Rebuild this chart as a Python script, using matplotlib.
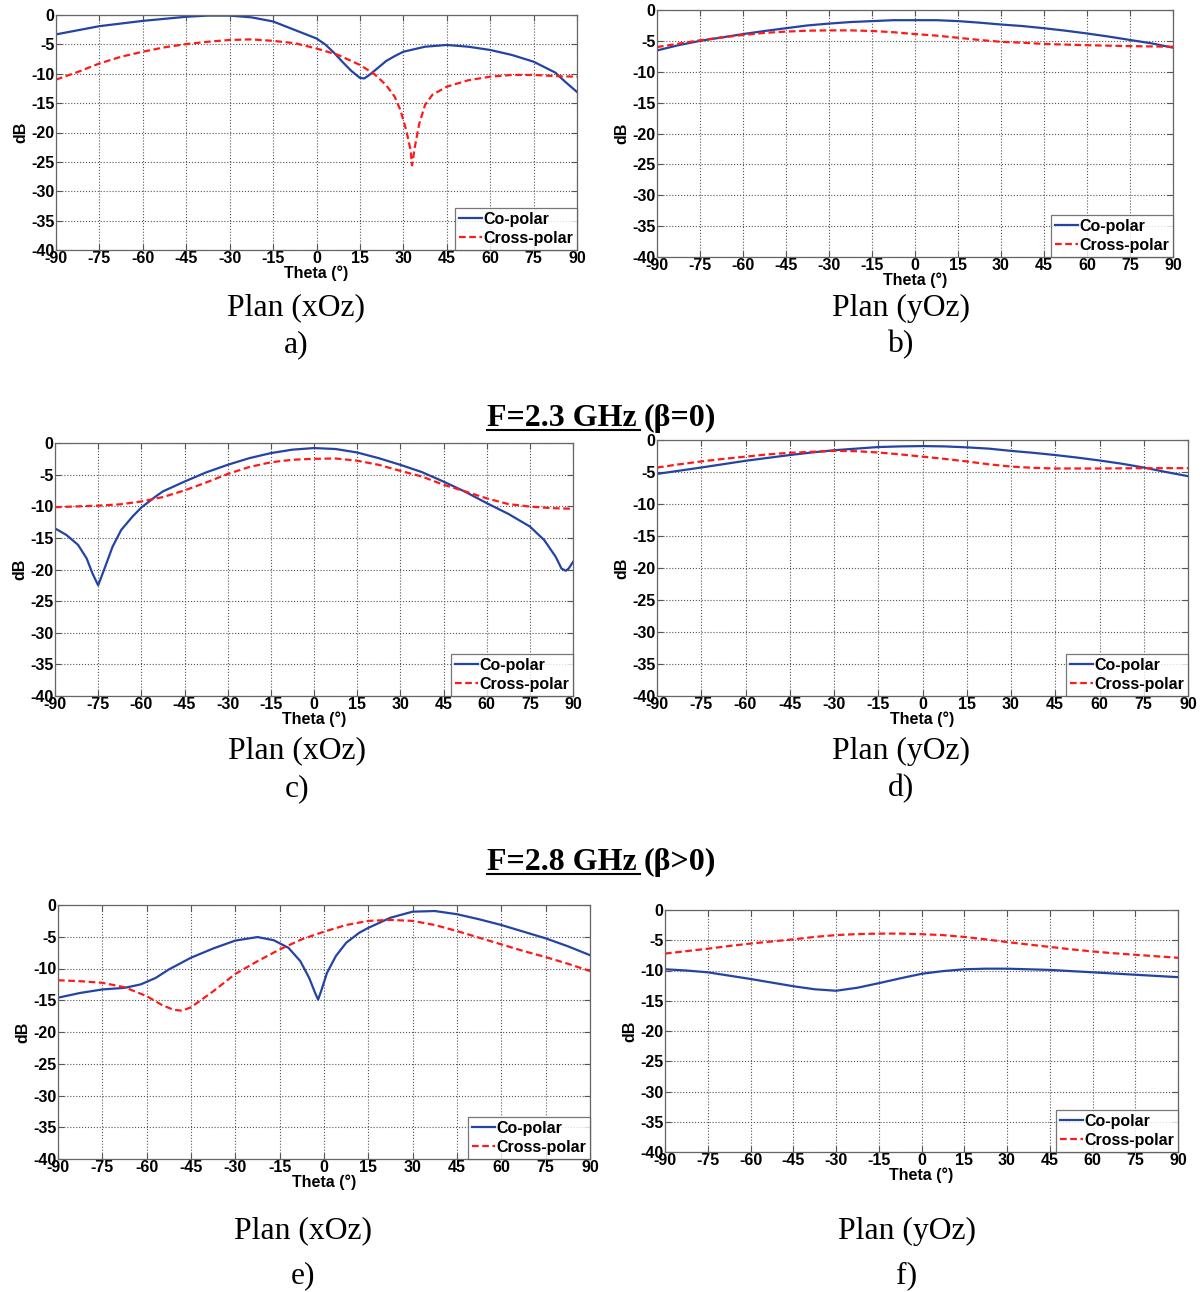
import numpy as np
import matplotlib
matplotlib.use('Agg')
import matplotlib.pyplot as plt
from matplotlib.lines import Line2D

plt.rcParams['axes.unicode_minus'] = False

# ---- data (theta in degrees, gain in dB) ----
# a) plan xOz
a_co_t = [-90, -82.5, -75, -60, -45, -37.5, -30, -22.5, -15, -7.5, 0, 3, 6, 9, 12, 15, 16.5, 18, 21, 24, 27, 30, 37.5, 45, 52.5, 60, 67.5, 75, 82.5, 86, 90]
a_co_v = [-3.3, -2.6, -1.9, -1.0, -0.3, -0.1, -0.1, -0.4, -1.1, -2.55, -4.0, -5.0, -6.4, -8.0, -9.5, -10.7, -10.8, -10.3, -9.1, -7.85, -7.0, -6.25, -5.4, -5.1, -5.4, -5.95, -6.8, -7.95, -9.8, -11.4, -13.1]
a_cr_t = [-90, -82.5, -75, -67.5, -60, -52.5, -45, -37.5, -30, -22.5, -15, -7.5, 0, 7.5, 15, 20, 24, 27, 29, 31, 32.5, 33, 34, 35.5, 37.5, 40, 45, 52.5, 60, 67.5, 75, 82.5, 90]
a_cr_v = [-11.0, -9.7, -8.25, -7.1, -6.25, -5.5, -4.95, -4.55, -4.25, -4.15, -4.4, -4.8, -5.7, -6.8, -8.5, -10.05, -11.9, -13.9, -16.2, -19.6, -23.0, -25.6, -22.4, -18.5, -15.3, -13.6, -12.2, -11.1, -10.5, -10.2, -10.2, -10.4, -10.5]

# b) plan yOz
b_co_t = [-90, -82.5, -75, -67.5, -60, -52.5, -45, -37.5, -30, -22.5, -15, -7.5, 0, 7.5, 15, 22.5, 30, 37.5, 45, 52.5, 60, 67.5, 75, 82.5, 90]
b_co_v = [-6.55, -5.7, -5.0, -4.45, -3.9, -3.4, -2.95, -2.5, -2.2, -1.95, -1.8, -1.65, -1.65, -1.65, -1.8, -2.05, -2.35, -2.6, -2.95, -3.35, -3.8, -4.3, -4.85, -5.4, -6.1]
b_cr_t = [-90, -82.5, -75, -67.5, -60, -52.5, -45, -37.5, -30, -22.5, -15, -7.5, 0, 7.5, 15, 22.5, 30, 37.5, 45, 60, 75, 90]
b_cr_v = [-6.0, -5.45, -4.9, -4.45, -4.05, -3.7, -3.5, -3.35, -3.3, -3.3, -3.4, -3.6, -3.9, -4.15, -4.5, -4.85, -5.15, -5.3, -5.5, -5.7, -5.85, -5.95]

# c) F=2.3 GHz plan xOz
c_co_t = [-90, -86, -82, -79, -77, -75, -73, -70, -67, -63, -60, -55, -52.5, -45, -37.5, -30, -22.5, -15, -7.5, 0, 7.5, 15, 22.5, 30, 37.5, 45, 52.5, 60, 67.5, 75, 80, 84, 86, 87.5, 88.5, 90]
c_co_v = [-13.5, -14.55, -16.1, -18.25, -20.6, -22.5, -20.1, -16.4, -13.75, -11.6, -10.2, -8.45, -7.65, -6.1, -4.65, -3.45, -2.4, -1.6, -1.05, -0.8, -0.95, -1.5, -2.4, -3.45, -4.6, -6.1, -7.7, -9.5, -11.2, -13.2, -15.35, -18.0, -19.85, -20.2, -19.85, -18.8]
c_cr_t = [-90, -75, -67.5, -60, -52.5, -45, -37.5, -30, -22.5, -15, -7.5, 0, 7.5, 15, 22.5, 30, 37.5, 45, 52.5, 60, 67.5, 75, 82.5, 90]
c_cr_v = [-10.15, -9.9, -9.7, -9.25, -8.55, -7.5, -6.25, -4.9, -3.8, -3.05, -2.65, -2.5, -2.45, -2.8, -3.45, -4.4, -5.3, -6.6, -7.65, -8.75, -9.65, -10.05, -10.3, -10.4]

# d) F=2.3 GHz plan yOz
d_co_t = [-90, -75, -60, -45, -37.5, -30, -22.5, -15, -7.5, 0, 7.5, 15, 22.5, 30, 37.5, 45, 52.5, 60, 67.5, 75, 82.5, 90]
d_co_v = [-5.3, -4.3, -3.25, -2.35, -1.95, -1.6, -1.35, -1.1, -1.0, -0.95, -1.0, -1.15, -1.35, -1.7, -2.0, -2.35, -2.75, -3.2, -3.7, -4.3, -5.0, -5.65]
d_cr_t = [-90, -82.5, -75, -67.5, -60, -52.5, -45, -37.5, -30, -22.5, -15, -7.5, 0, 7.5, 15, 22.5, 30, 37.5, 45, 60, 75, 90]
d_cr_v = [-4.3, -3.8, -3.35, -2.95, -2.6, -2.25, -2.0, -1.85, -1.7, -1.75, -1.95, -2.25, -2.6, -2.95, -3.35, -3.8, -4.15, -4.35, -4.45, -4.45, -4.4, -4.4]

# e) F=2.8 GHz plan xOz
e_co_t = [-90, -82.5, -75, -67.5, -62, -57, -52.5, -45, -37.5, -30, -22.5, -17, -12, -8, -5, -3, -2, -1, 1, 4, 7.5, 12, 15, 22.5, 30, 37.5, 45, 52.5, 60, 67.5, 75, 82.5, 90]
e_co_v = [-14.6, -13.85, -13.3, -13.05, -12.5, -11.5, -10.15, -8.3, -6.85, -5.6, -5.05, -5.55, -6.75, -8.85, -11.5, -13.85, -14.9, -13.6, -10.7, -8.05, -5.95, -4.35, -3.6, -2.0, -1.05, -0.95, -1.45, -2.25, -3.15, -4.2, -5.25, -6.5, -7.9]
e_cr_t = [-90, -82.5, -75, -67.5, -60, -55, -51, -48, -45, -37.5, -30, -22.5, -15, -7.5, 0, 7.5, 15, 22.5, 30, 37.5, 45, 52.5, 60, 67.5, 75, 82.5, 90]
e_cr_v = [-11.85, -12.0, -12.25, -12.95, -14.35, -15.7, -16.5, -16.65, -16.1, -13.6, -10.85, -8.85, -7.0, -5.4, -4.2, -3.15, -2.5, -2.35, -2.5, -3.15, -4.1, -5.15, -6.2, -7.25, -8.2, -9.25, -10.4]

# f) F=2.8 GHz plan yOz
f_co_t = [-90, -82.5, -75, -67.5, -60, -52.5, -45, -37.5, -30, -22.5, -15, -7.5, 0, 7.5, 15, 22.5, 30, 37.5, 45, 52.5, 60, 67.5, 75, 82.5, 90]
f_co_v = [-9.8, -10.0, -10.3, -10.85, -11.4, -12.0, -12.6, -13.1, -13.35, -12.85, -12.1, -11.3, -10.55, -10.1, -9.8, -9.7, -9.7, -9.8, -9.9, -10.1, -10.3, -10.5, -10.7, -10.9, -11.1]
f_cr_t = [-90, -82.5, -75, -67.5, -60, -52.5, -45, -37.5, -30, -22.5, -15, -7.5, 0, 7.5, 15, 22.5, 30, 37.5, 45, 52.5, 60, 67.5, 75, 82.5, 90]
f_cr_v = [-7.2, -6.8, -6.4, -5.95, -5.55, -5.2, -4.85, -4.45, -4.15, -3.98, -3.9, -3.9, -4.0, -4.15, -4.45, -4.85, -5.3, -5.7, -6.1, -6.5, -6.85, -7.15, -7.4, -7.65, -7.9]

x_ticks = list(range(-90, 91, 15))
y_ticks = list(range(-40, 1, 5))
legend_labels = ['Co-polar', 'Cross-polar']

W, H = 1203, 1292
fig = plt.figure(figsize=(W / 100, H / 100), dpi=100)

BLUE = '#2444a4'
RED = '#ff1a1a'
SANS = 'Liberation Sans'
SERIF = 'Liberation Serif'
FS = 11.5


def ax_at(l, t, r, b):
    return fig.add_axes([l / W, 1 - b / H, (r - l) / W, (b - t) / H])


def panel(box, co_t, co_v, cr_t, cr_v):
    ax = ax_at(*box)
    ax.plot(co_t, co_v, color=BLUE, lw=1.6, label=legend_labels[0])
    ax.plot(cr_t, cr_v, color=RED, lw=1.6, ls=(0, (3, 1.6)), label=legend_labels[1])
    ax.set_xlim(-90, 90)
    ax.set_ylim(-40, 0)
    ax.set_xticks(x_ticks)
    ax.set_yticks(y_ticks)
    ax.grid(True, ls=':', color='#555555', lw=0.8)
    ax.tick_params(direction='in', top=True, right=True, length=4, pad=1,
                   labelsize=FS, color='#555555')
    for lab in ax.get_xticklabels() + ax.get_yticklabels():
        lab.set_fontweight('bold')
        lab.set_family(SANS)
    for s in ax.spines.values():
        s.set_color('#666666')
        s.set_linewidth(0.9)
    ax.set_xlabel('Theta (°)', fontsize=FS, fontweight='bold', family=SANS, labelpad=-1)
    ax.set_ylabel('dB', fontsize=FS, fontweight='bold', family=SANS, labelpad=2)
    leg = ax.legend(loc='lower right', borderaxespad=0, fancybox=False,
                    handlelength=1.4, handletextpad=0.1, borderpad=0.25,
                    labelspacing=0.25,
                    prop={'family': SANS, 'weight': 'bold', 'size': FS})
    leg.get_frame().set_edgecolor('#555555')
    leg.get_frame().set_linewidth(0.9)
    return ax


def caption(x, y, s):
    fig.text(x / W, 1 - y / H, s, ha='center', va='center', family=SERIF, fontsize=22.8)


panel((56, 15, 577, 250), a_co_t, a_co_v, a_cr_t, a_cr_v)
panel((657, 10, 1173, 257), b_co_t, b_co_v, b_cr_t, b_cr_v)
panel((55, 443, 573, 696), c_co_t, c_co_v, c_cr_t, c_cr_v)
panel((657, 440, 1188, 696), d_co_t, d_co_v, d_cr_t, d_cr_v)
panel((58, 905, 590, 1159), e_co_t, e_co_v, e_cr_t, e_cr_v)
panel((665, 910, 1178, 1152), f_co_t, f_co_v, f_cr_t, f_cr_v)

caption(296, 308, 'Plan (xOz)')
caption(296, 345, 'a)')
caption(901, 308, 'Plan (yOz)')
caption(901, 345, 'b)')
caption(297, 751, 'Plan (xOz)')
caption(297, 789, 'c)')
caption(901, 751, 'Plan (yOz)')
caption(901, 789, 'd)')
caption(303, 1231, 'Plan (xOz)')
caption(303, 1276, 'e)')
caption(907, 1231, 'Plan (yOz)')
caption(907, 1276, 'f)')


def heading(y, left, right):
    t1 = fig.text(487 / W, 1 - y / H, left, ha='left', va='center',
                  family=SERIF, fontweight='bold', fontsize=23)
    fig.canvas.draw()
    bb = t1.get_window_extent()
    fig.text((bb.x1 + 7) / W, 1 - y / H, right, ha='left', va='center',
             family=SERIF, fontweight='bold', fontsize=23)
    fig.add_artist(Line2D([bb.x0 / W, (bb.x1 + 3) / W], [1 - (y + 12) / H, 1 - (y + 12) / H],
                          color='black', lw=1.5))


heading(418, 'F=2.3 GHz', '(β=0)')
heading(862, 'F=2.8 GHz', '(β>0)')

fig.savefig('out.png', dpi=100)
